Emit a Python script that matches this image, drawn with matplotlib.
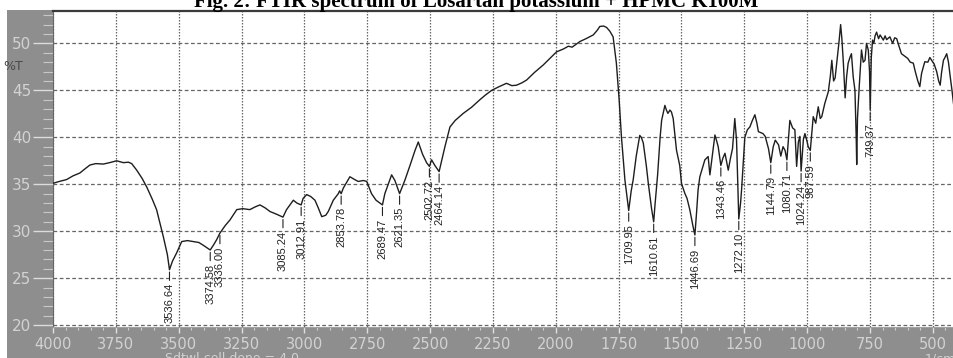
import matplotlib
matplotlib.use("Agg")
import matplotlib.pyplot as plt
import numpy as np
from matplotlib.ticker import MultipleLocator
from matplotlib.patches import Rectangle

# FTIR spectrum, wavenumber (1/cm) vs transmittance (%T)
wavenumber = [
    4000, 3975, 3946, 3920, 3893, 3870, 3853, 3830, 3800, 3775, 3747, 3720,
    3700, 3687, 3667, 3645, 3627, 3605, 3588, 3561, 3545, 3536.64, 3525, 3508,
    3488, 3465, 3442, 3420, 3402, 3374.58, 3360, 3349, 3336.00, 3315, 3296,
    3269, 3245, 3217, 3195, 3177, 3157, 3137, 3110, 3085.24, 3071, 3044, 3030,
    3012.91, 3005, 2991, 2975, 2958, 2945, 2931, 2915, 2905, 2885, 2865, 2860,
    2853.78, 2845, 2819, 2800, 2786, 2765, 2752, 2733, 2715, 2689.47, 2680,
    2665, 2653, 2640, 2621.35, 2600, 2580, 2560, 2547, 2530, 2514, 2502.72,
    2494, 2481, 2464.14, 2441, 2421, 2400, 2368, 2335, 2302, 2280, 2255, 2225,
    2196, 2175, 2156, 2135, 2116, 2085, 2050, 2020, 1997, 1970, 1950, 1935,
    1904, 1880, 1851, 1835, 1825, 1810, 1798, 1785, 1772, 1759, 1748, 1739,
    1725, 1709.95, 1700, 1692, 1680, 1666, 1660, 1652, 1640, 1632, 1619,
    1610.61, 1606, 1595, 1585, 1579, 1566, 1560, 1554, 1546, 1540, 1533, 1520,
    1507, 1500, 1487, 1478, 1467, 1454, 1446.69, 1440, 1434, 1427, 1415, 1407,
    1394, 1387, 1375, 1367, 1360, 1354, 1343.46, 1335, 1327, 1314, 1305, 1297,
    1288, 1281, 1272.10, 1265, 1261, 1248, 1238, 1228, 1218, 1208, 1200, 1194,
    1176, 1167, 1154, 1144.79, 1135, 1127, 1114, 1105, 1096, 1088, 1080.71,
    1069, 1058, 1049, 1042, 1035, 1029, 1024.24, 1015, 1009, 1000, 996, 987.59,
    976, 966, 956, 948, 942, 930, 916, 908, 902, 895, 889, 880, 874, 867, 862,
    856, 849, 843, 837, 830, 824, 817, 810, 805, 803, 800, 793, 788, 784, 777,
    770, 764, 757, 752, 749.37, 745, 740, 735, 730, 724, 716, 710, 697, 690,
    684, 671, 660, 652, 644, 636, 625, 615, 600, 590, 578, 570, 560, 552, 545,
    538, 532, 520, 512, 505, 495, 485, 477, 471, 465, 458, 452, 445, 438, 431,
    424, 418,
]
transmittance = [
    35.1, 35.3, 35.5, 35.9, 36.2, 36.7, 37.05, 37.2, 37.15, 37.3, 37.5, 37.3,
    37.35, 37.2, 36.5, 35.6, 34.7, 33.4, 32.3, 29.4, 27.5, 25.9, 26.8, 27.7,
    28.9, 29.0, 28.9, 28.8, 28.5, 28.0, 28.6, 29.1, 29.8, 30.6, 31.2,
    32.3, 32.4, 32.3, 32.6, 32.8, 32.5, 32.1, 31.8, 31.5, 32.3, 33.3, 33.0,
    32.8, 33.5, 33.9, 33.7, 33.3, 32.5, 31.55, 31.7, 32.1, 33.3, 34.0, 34.3,
    34.0, 34.6, 35.8, 35.5, 35.3, 35.4, 35.3, 34.0, 33.3, 32.8, 34.0,
    35.1, 36.0, 35.4, 34.0, 35.45, 37.0, 38.6, 39.5, 38.2, 37.3, 36.9,
    37.6, 37.0, 36.35, 39.0, 41.1, 41.8, 42.55, 43.2, 44.0, 44.5, 45.0, 45.4,
    45.75, 45.5, 45.55, 45.8, 46.1, 46.9, 47.7, 48.5, 49.1, 49.4, 49.7, 49.6,
    50.2, 50.5, 50.9, 51.4, 51.8, 51.85, 51.7, 51.3, 50.7, 47.9, 44.0, 40.1,
    35.45, 32.2, 34.3, 35.5, 38.0, 40.2, 40.0, 39.4, 37.0, 35.1, 32.4,
    31.0, 32.6, 36.0, 40.0, 41.8, 43.4, 42.9, 42.55, 42.9, 42.7, 42.0, 38.65,
    37.0, 35.1, 34.05, 33.5, 32.3, 30.5, 29.6, 32.0, 34.4, 35.8, 36.9, 37.6,
    37.95, 36.0, 38.5, 40.25, 39.6, 39.0, 37.0, 37.8, 38.3, 36.5, 37.8, 38.8,
    42.0, 39.7, 31.3, 33.0, 34.4, 40.0, 40.8, 41.1, 41.8, 42.4, 41.5, 40.6,
    40.4, 40.1, 38.8, 37.3, 39.0, 39.7, 39.2, 38.0, 39.0, 38.6, 37.6,
    41.8, 41.0, 40.8, 36.9, 39.5, 40.1, 36.4, 39.8, 40.4, 39.5, 39.0, 38.6,
    42.2, 41.5, 43.25, 42.0, 42.2, 43.6, 44.85, 46.5, 48.2, 46.0, 46.3, 48.5,
    50.0, 52.0, 50.5, 47.9, 44.2, 46.5, 47.9, 48.5, 48.9, 46.45, 45.0, 40.0,
    37.1, 42.0, 45.4, 47.5, 49.3, 48.0, 48.2, 50.0, 49.3, 47.0, 42.9, 48.5,
    50.35, 50.0, 50.8, 51.2, 50.5, 50.9, 50.35, 50.8, 50.4, 50.7, 50.0, 50.6,
    50.5, 49.8, 48.9, 48.7, 48.4, 48.0, 47.9, 47.0, 46.0, 45.4, 46.8, 47.5,
    48.05, 48.0, 48.5, 48.2, 47.8, 47.0, 46.0, 45.55, 47.0, 48.2, 48.5, 48.9,
    48.0, 46.45, 45.0, 43.6,
]

peak_labels = [
    "3536.64", "3374.58", "3336.00", "3085.24", "3012.91", "2853.78",
    "2689.47", "2621.35", "2502.72", "2464.14", "1709.95", "1610.61",
    "1446.69", "1343.46", "1272.10", "1144.79", "1080.71", "1024.24",
    "987.59", "749.37",
]

x_ticks = [4000, 3750, 3500, 3250, 3000, 2750, 2500, 2250, 2000, 1750,
           1500, 1250, 1000, 750, 500]
y_ticks = [20, 25, 30, 35, 40, 45, 50]

title = "Fig. 2: FTIR spectrum of Losartan potassium + HPMC K100M"

W, H = 954, 358
fig = plt.figure(figsize=(W / 100, H / 100), dpi=100)
fig.patch.set_facecolor("white")

panel_gray = "#8e8e8e"
label_gray = "#d2d2d2"

# instrument-style gray frame around the plot
fig.patches.append(Rectangle((7 / W, 0), 1 - 7 / W, (H - 10) / H,
                             transform=fig.transFigure, facecolor=panel_gray,
                             edgecolor="none", zorder=-5))

ax = fig.add_axes([53 / W, 31 / H, (W - 53) / W, (H - 11 - 31) / H])
ax.set_zorder(2)
ax.set_facecolor("white")
ax.set_xlim(4000, 416)
ax.set_ylim(19.8, 53.45)

ax.plot(wavenumber, transmittance, color="#1e1e1e", lw=1.0, zorder=3)

# peak annotations with short leader lines
wn_asc = np.array(wavenumber[::-1], dtype=float)
t_asc = np.array(transmittance[::-1], dtype=float)
for lab in peak_labels:
    wx = float(lab)
    ty = float(np.interp(wx, wn_asc, t_asc))
    ax.annotate(lab, xy=(wx, ty - 0.25), xytext=(0, -8),
                textcoords="offset points", rotation=90, ha="center",
                va="top", fontsize=8, color="#222222",
                family=["Liberation Sans Narrow", "Liberation Sans"],
                arrowprops=dict(arrowstyle="-", color="#222222", lw=0.8,
                                shrinkA=0, shrinkB=0), zorder=4)

ax.set_xticks(x_ticks)
ax.set_xticklabels([str(v) for v in x_ticks])
ax.set_yticks(y_ticks)
ax.set_yticklabels([str(v) for v in y_ticks])
ax.xaxis.set_minor_locator(MultipleLocator(50))
ax.yaxis.set_minor_locator(MultipleLocator(1))

ax.tick_params(axis="y", which="major", direction="out", length=14.4,
               width=1.0, color="#dcdcdc", labelcolor=label_gray,
               labelsize=11, pad=1)
ax.tick_params(axis="y", which="minor", direction="out", length=7,
               width=0.8, color="#c8c8c8")
ax.tick_params(axis="x", which="major", direction="out", length=4.5,
               width=1.0, color="#e0e0e0", labelcolor=label_gray,
               labelsize=10.5, pad=2.5)
ax.tick_params(axis="x", which="minor", direction="out", length=2.5,
               width=0.8, color="#d0d0d0")

ax.grid(axis="y", which="major", linestyle=(0, (3, 2)), color="#666666",
        lw=0.9, zorder=1)
ax.grid(axis="x", which="major", linestyle=(0, (1.2, 1.2)), color="#666666",
        lw=0.9, zorder=1)
ax.set_axisbelow(True)

ax.spines["right"].set_visible(False)
ax.spines["top"].set_color("#3a3a3a")
ax.spines["top"].set_linewidth(1.6)
ax.spines["left"].set_color("#666666")
ax.spines["bottom"].set_color("#a0a0a0")

fig.text(3 / W, (H - 67) / H, "%T", fontsize=9, color="#4a4a4a",
         ha="left", va="center")
fig.text(165 / W, (H - 352) / H, "Sdtwl cell dono = 4.0", fontsize=9,
         color=label_gray, ha="left", va="top")
fig.text(925 / W, (H - 352) / H, "1/cm", fontsize=9, color=label_gray,
         ha="left", va="top")

fig.text(0.499, (H - 7.5) / H, title, ha="center", va="baseline",
         fontsize=15, fontweight="bold", family="Liberation Serif",
         color="black")

fig.savefig("out.png", dpi=100)
